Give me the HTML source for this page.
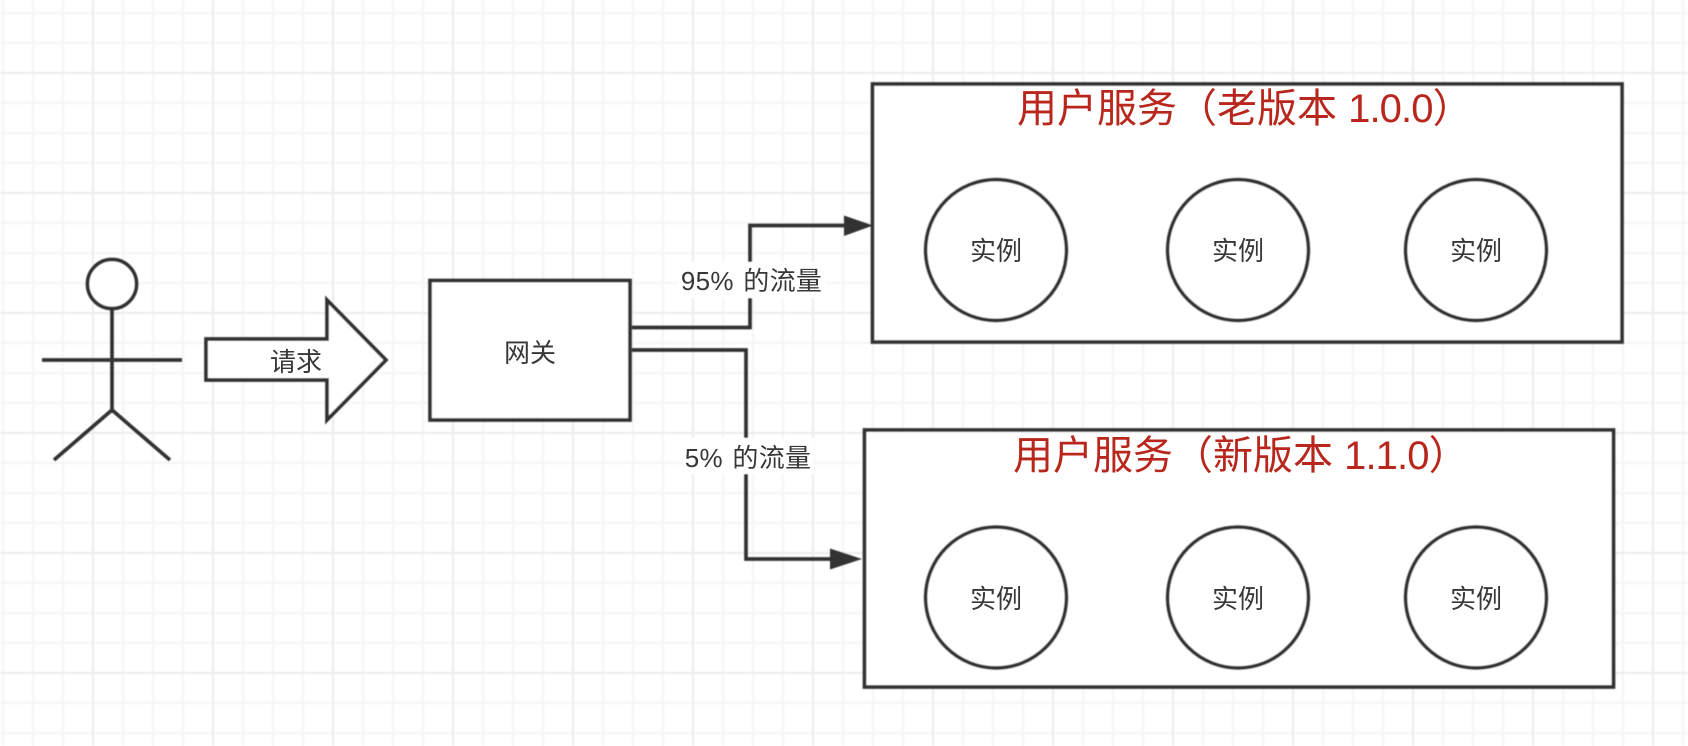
<!DOCTYPE html>
<html><head><meta charset="utf-8">
<style>
html,body{margin:0;padding:0;background:#fff;width:1688px;height:746px;overflow:hidden}
svg{display:block}
text{font-family:"Liberation Sans","Noto Sans CJK SC",sans-serif}
</style></head><body>
<svg width="1688" height="746" viewBox="0 0 1688 746" xmlns="http://www.w3.org/2000/svg">
<defs>
<pattern id="gm" width="30" height="30" patternUnits="userSpaceOnUse" x="-12" y="-2">
<path d="M15 0V30M0 15H30" stroke="#f5f5f5" stroke-width="2.2" fill="none"/>
</pattern>
<pattern id="gM" width="120" height="120" patternUnits="userSpaceOnUse" x="33" y="13">
<path d="M60 0V120M0 60H120" stroke="#eeeeee" stroke-width="2.2" fill="none"/>
</pattern>
<filter id="b" x="-5%" y="-5%" width="110%" height="110%"><feGaussianBlur stdDeviation="0.45"/></filter>
<filter id="t" x="-5%" y="-5%" width="110%" height="110%"><feGaussianBlur stdDeviation="0.3"/></filter>
</defs>
<rect width="1688" height="746" fill="#fff"/>
<g filter="url(#b)">
<rect width="1688" height="746" fill="url(#gm)"/>
<rect width="1688" height="746" fill="url(#gM)"/>
</g>
<g filter="url(#b)">
<g fill="none" stroke="#333" stroke-width="3.7">
<circle cx="112" cy="284" r="24.5" fill="#fff"/>
<path d="M112 309V410M42 360H182M54 460L112 410L170 460"/>
<path d="M206 339H327V300L386 360L327 420V380H206Z" fill="#fff" stroke-linejoin="miter"/>
<rect x="430" y="280.5" width="200" height="139.5" fill="#fff"/>
<rect x="872.5" y="84" width="749.5" height="258" fill="#fff"/>
<rect x="864.5" y="430" width="749" height="257" fill="#fff"/>
<path d="M632 327.5H750V225.5H846"/>
<path d="M632 350H746V559H832"/>
<circle cx="996" cy="250" r="70.5" fill="#fff"/>
<circle cx="1238" cy="250" r="70.5" fill="#fff"/>
<circle cx="1476" cy="250" r="70.5" fill="#fff"/>
<circle cx="996" cy="597.5" r="70.5" fill="#fff"/>
<circle cx="1238" cy="597.5" r="70.5" fill="#fff"/>
<circle cx="1476" cy="597.5" r="70.5" fill="#fff"/>
</g>
<path d="M844 215.5L873 225.5L844 236Z" fill="#333"/>
<path d="M830 548.5L862 559L830 569.5Z" fill="#333"/>
<rect x="678" y="262" width="148" height="36" fill="#fff"/>
<rect x="683" y="438" width="131" height="36" fill="#fff"/>
</g>
<g filter="url(#t)">
<g fill="#383838" font-size="26" text-anchor="middle">
<text x="296" y="371">请求</text>
<text x="530" y="362">网关</text>
<text x="751.5" y="290" word-spacing="2" letter-spacing="0.3">95% 的流量</text>
<text x="748" y="467" word-spacing="2" letter-spacing="0.3">5% 的流量</text>
<text x="996" y="260">实例</text>
<text x="1238" y="260">实例</text>
<text x="1476" y="260">实例</text>
<text x="996" y="608">实例</text>
<text x="1238" y="608">实例</text>
<text x="1476" y="608">实例</text>
</g>
<g fill="#b8281e" font-size="40">
<text x="1017" y="122">用户服务（老版本 <tspan letter-spacing="-0.9">1.0.0</tspan>）</text>
<text x="1013" y="469">用户服务（新版本 <tspan letter-spacing="-0.9">1.1.0</tspan>）</text>
</g>
</g>
</svg>
</body></html>
